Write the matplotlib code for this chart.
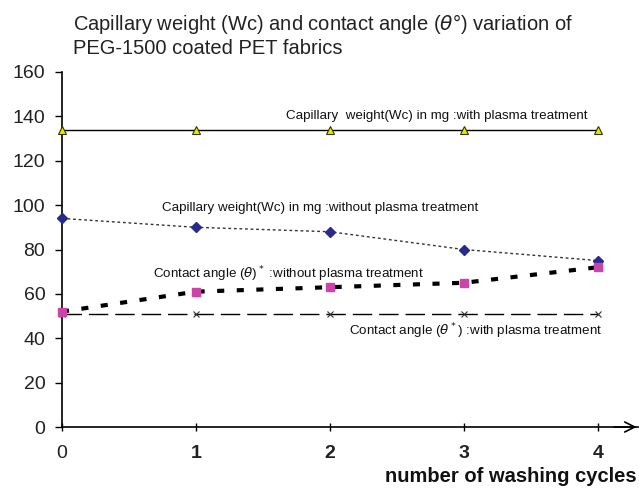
import numpy as np
import matplotlib.pyplot as plt

plt.rcParams['font.family'] = ['Liberation Sans', 'DejaVu Sans']

# washing cycles
cycles = [0, 1, 2, 3, 4]

# capillary weight (mg) and contact angle (deg)
wc_plasma = [134, 134, 134, 134, 134]
wc_no_plasma = [94, 90, 88, 80, 75]
ca_no_plasma = [52, 61, 63, 65, 72]
ca_plasma = [51, 51, 51, 51, 51]

fig = plt.figure(figsize=(6.39, 4.93), dpi=100)
ax = fig.add_axes([62 / 639, 1 - 427 / 493, 576 / 639, 355 / 493])

# curves
ax.plot(cycles, wc_plasma, '-', color='black', lw=1.0,
        marker='^', ms=6, mfc='#e8e800', mec='#333300', mew=0.8, clip_on=False, zorder=4)
ax.plot(cycles, wc_no_plasma, linestyle=(0, (2, 2)), color='#333333', lw=1.0,
        marker='D', ms=5, mfc='#2a2a8c', mec='#2a2a8c', clip_on=False, zorder=4)
ax.plot(cycles, ca_plasma, linestyle=(0, (14, 5)), color='black', lw=1.0,
        marker='x', ms=4, mec='#333333', mew=0.8, clip_on=False, zorder=3)
ax.plot(cycles, ca_no_plasma, linestyle=(0, (1.7, 3)), color='black', lw=3.0,
        marker='s', ms=6, mfc='#cc44aa', mec='#cc44aa', clip_on=False, zorder=4)

# labels on curves
ax.text(2.8, 137.5, 'Capillary  weight(Wc) in mg :with plasma treatment',
        ha='center', va='bottom', fontsize=9.6, color='#111111')
ax.text(0.75, 96, 'Capillary weight(Wc) in mg :without plasma treatment',
        ha='left', va='bottom', fontsize=9.6, color='#111111')
ax.text(0.68, 64.5, r'Contact angle ($\theta$)$^*$ :without plasma treatment',
        ha='left', va='bottom', fontsize=9.6, color='#111111')
ax.text(4.03, 43, r'Contact angle ($\theta^*$) :with plasma treatment',
        ha='right', va='center', fontsize=9.6, color='#111111')

ax.set_xlim(0, 4.3)
ax.set_ylim(0, 160)
ax.set_yticks(np.arange(0, 161, 20))
ax.set_xticks(cycles)
ax.set_xticklabels(['0', '1', '2', '3', '4'], fontsize=14)
for lbl in ax.get_xticklabels()[1:]:
    lbl.set_fontweight('bold')
ax.tick_params(axis='y', labelsize=14, direction='out', length=5, width=1, pad=7,
               labelcolor='#222222')
ax.tick_params(axis='x', direction='inout', length=6, width=1, pad=10,
               labelcolor='#222222')

for s in ['top', 'right']:
    ax.spines[s].set_visible(False)
ax.spines['left'].set_linewidth(1.2)
ax.spines['bottom'].set_linewidth(1.2)

# arrow on the x axis
ax.annotate('', xy=(4.31, 0), xytext=(4.1, 0), xycoords='data',
            arrowprops=dict(arrowstyle='->', lw=1.2, color='black', mutation_scale=18),
            annotation_clip=False)

fig.text(0.997, 0.015, 'number of washing cycles', ha='right', va='bottom',
         fontsize=14.5, fontweight='bold', color='#111111')

fig.text(73 / 639, 1 - 12 / 493, 'Capillary weight (Wc) and contact angle ($\\theta$°) variation of\nPEG-1500 coated PET fabrics',
         ha='left', va='top', fontsize=14.5, linespacing=1.2, color='#222222')

fig.savefig('out.png', dpi=100)
